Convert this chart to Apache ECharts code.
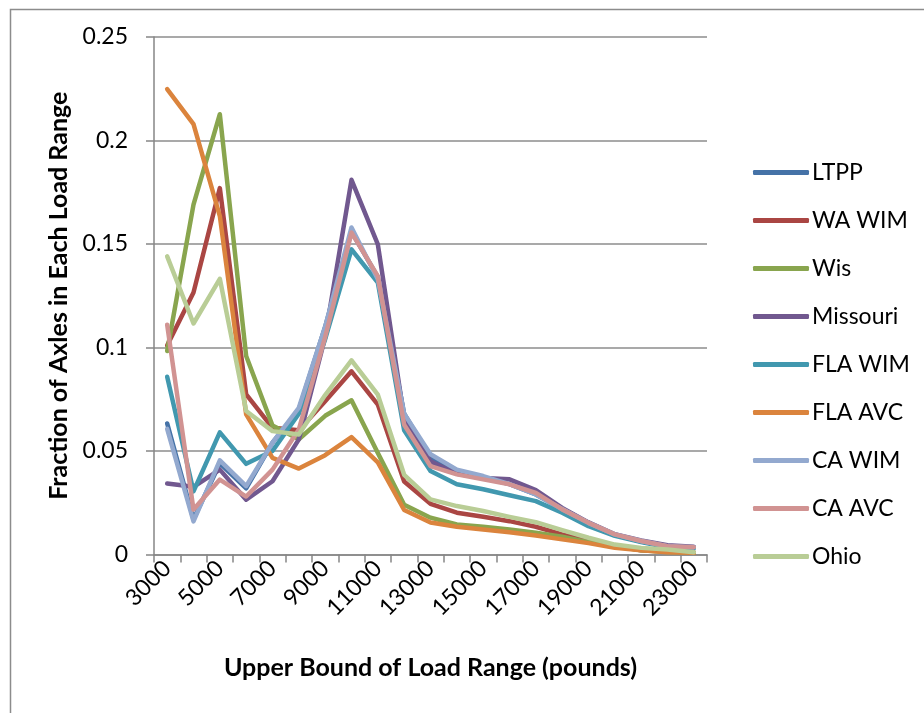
<!DOCTYPE html>
<html>
<head>
<meta charset="utf-8">
<script src="https://cdn.jsdelivr.net/npm/echarts@6/dist/echarts.min.js"></script>
<style>
html,body{margin:0;padding:0;background:#fff;}
#chart{width:924px;height:713px;}
</style>
</head>
<body>
<div id="chart"></div>
<script>
var categories = ['3000','4000','5000','6000','7000','8000','9000','10000','11000','12000','13000','14000','15000','16000','17000','18000','19000','20000','21000','22000','23000'];
var seriesNames = ['LTPP','WA WIM','Wis','Missouri','FLA WIM','FLA AVC','CA WIM','CA AVC','Ohio'];
var colors = ['#4572A7','#AA4643','#89A54E','#71588F','#4198AF','#DB843D','#93A9CF','#D19392','#B9CD96'];

var ltpp    = [0.0633,0.017,0.044,0.032,0.054,0.070,0.110,0.156,0.134,0.068,0.047,0.040,0.037,0.034,0.029,0.022,0.0153,0.0095,0.0063,0.004,0.0033];
var waWim   = [0.101,0.1266,0.177,0.0774,0.0612,0.060,0.074,0.0885,0.0724,0.0353,0.0245,0.0202,0.0182,0.0161,0.0134,0.0097,0.0065,0.0042,0.002,0.0014,0.001];
var wis     = [0.0983,0.169,0.2127,0.0959,0.0623,0.0557,0.067,0.0745,0.049,0.024,0.0178,0.0145,0.0134,0.0121,0.0105,0.0086,0.006,0.004,0.002,0.0012,0.0008];
var missouri= [0.0343,0.0327,0.041,0.0265,0.0354,0.0556,0.105,0.181,0.1498,0.066,0.045,0.039,0.037,0.0363,0.0311,0.0225,0.0155,0.0098,0.0068,0.0045,0.0037];
var flaWim  = [0.0859,0.0305,0.059,0.0438,0.050,0.068,0.104,0.1474,0.1313,0.060,0.0403,0.0339,0.0315,0.0286,0.0258,0.0202,0.0137,0.009,0.006,0.0035,0.003];
var flaAvc  = [0.2248,0.2079,0.1635,0.0677,0.0467,0.0415,0.048,0.0567,0.0445,0.0215,0.0155,0.0134,0.0121,0.0108,0.0092,0.0073,0.0055,0.0032,0.002,0.0011,0.0008];
var caWim   = [0.0607,0.016,0.0455,0.033,0.054,0.0709,0.11,0.158,0.133,0.068,0.0484,0.041,0.0379,0.034,0.029,0.022,0.0153,0.0097,0.0065,0.004,0.0035];
var caAvc   = [0.111,0.0217,0.0362,0.028,0.041,0.0604,0.105,0.1555,0.1345,0.0627,0.0427,0.0387,0.0363,0.0339,0.0298,0.0218,0.0153,0.0097,0.0065,0.004,0.0035];
var ohio    = [0.144,0.1116,0.1332,0.0693,0.0596,0.058,0.077,0.0938,0.0772,0.0385,0.0266,0.0234,0.021,0.0182,0.0156,0.0118,0.0081,0.0048,0.0032,0.0024,0.0011];

var allData = [ltpp, waWim, wis, missouri, flaWim, flaAvc, caWim, caAvc, ohio];
var FONT = 'Lato, "Open Sans", sans-serif';
var chart = echarts.init(document.getElementById('chart'), null, {renderer:'canvas'});

var series = seriesNames.map(function(name, i){
  return {
    name: name,
    type: 'line',
    data: allData[i],
    symbol: 'none',
    smooth: false,
    lineStyle: {width: 4.5, color: colors[i], cap:'round', join:'round'},
    itemStyle: {color: colors[i]},
    animation: false
  };
});

chart.setOption({
  animation: false,
  backgroundColor: '#ffffff',
  color: colors,
  graphic: [{
    type: 'rect', left: 8, top: 7, silent: true,
    shape: {x: 0, y: 0, width: 940, height: 740},
    style: {fill: 'none', stroke: '#8c8c8c', lineWidth: 1.5}
  }],
  grid: {left: 154, right: 217, top: 37, bottom: 158.5, containLabel: false},
  legend: {
    orient: 'vertical',
    left: 748, top: 156,
    itemWidth: 56, itemHeight: 5,
    itemGap: 25,
    icon: 'roundRect',
    textStyle: {fontFamily: FONT, fontSize: 23, color: '#000', lineHeight: 20, padding: [0,0,0,-2]},
    data: seriesNames
  },
  xAxis: {
    type: 'category',
    data: categories,
    boundaryGap: true,
    name: 'Upper Bound of Load Range (pounds)',
    nameLocation: 'middle',
    nameGap: 101,
    nameTextStyle: {fontFamily: FONT, fontSize: 25, fontWeight: 'bold', color: '#000'},
    axisLine: {show: true, lineStyle: {color: '#868686', width: 1.5}},
    axisTick: {show: true, interval: 0, length: 8, lineStyle: {color: '#868686', width: 1.5}},
    axisLabel: {interval: 1, rotate: 45, margin: 10, fontFamily: FONT, fontSize: 23, color: '#000'},
    splitLine: {show: false}
  },
  yAxis: {
    type: 'value',
    min: 0, max: 0.25, interval: 0.05,
    name: 'Fraction of Axles in Each Load Range',
    nameLocation: 'middle',
    nameGap: 82,
    nameRotate: 90,
    nameTextStyle: {fontFamily: FONT, fontSize: 25, fontWeight: 'bold', color: '#000'},
    axisLine: {show: true, lineStyle: {color: '#868686', width: 1.5}},
    axisTick: {show: true, length: 8, lineStyle: {color: '#868686', width: 1.5}},
    axisLabel: {margin: 26, fontFamily: FONT, fontSize: 23, color: '#000',
      formatter: function(v){ return String(Math.round(v*100)/100); }},
    splitLine: {show: true, lineStyle: {color: '#8c8c8c', width: 1.5}}
  },
  series: series
});
</script>
</body>
</html>
